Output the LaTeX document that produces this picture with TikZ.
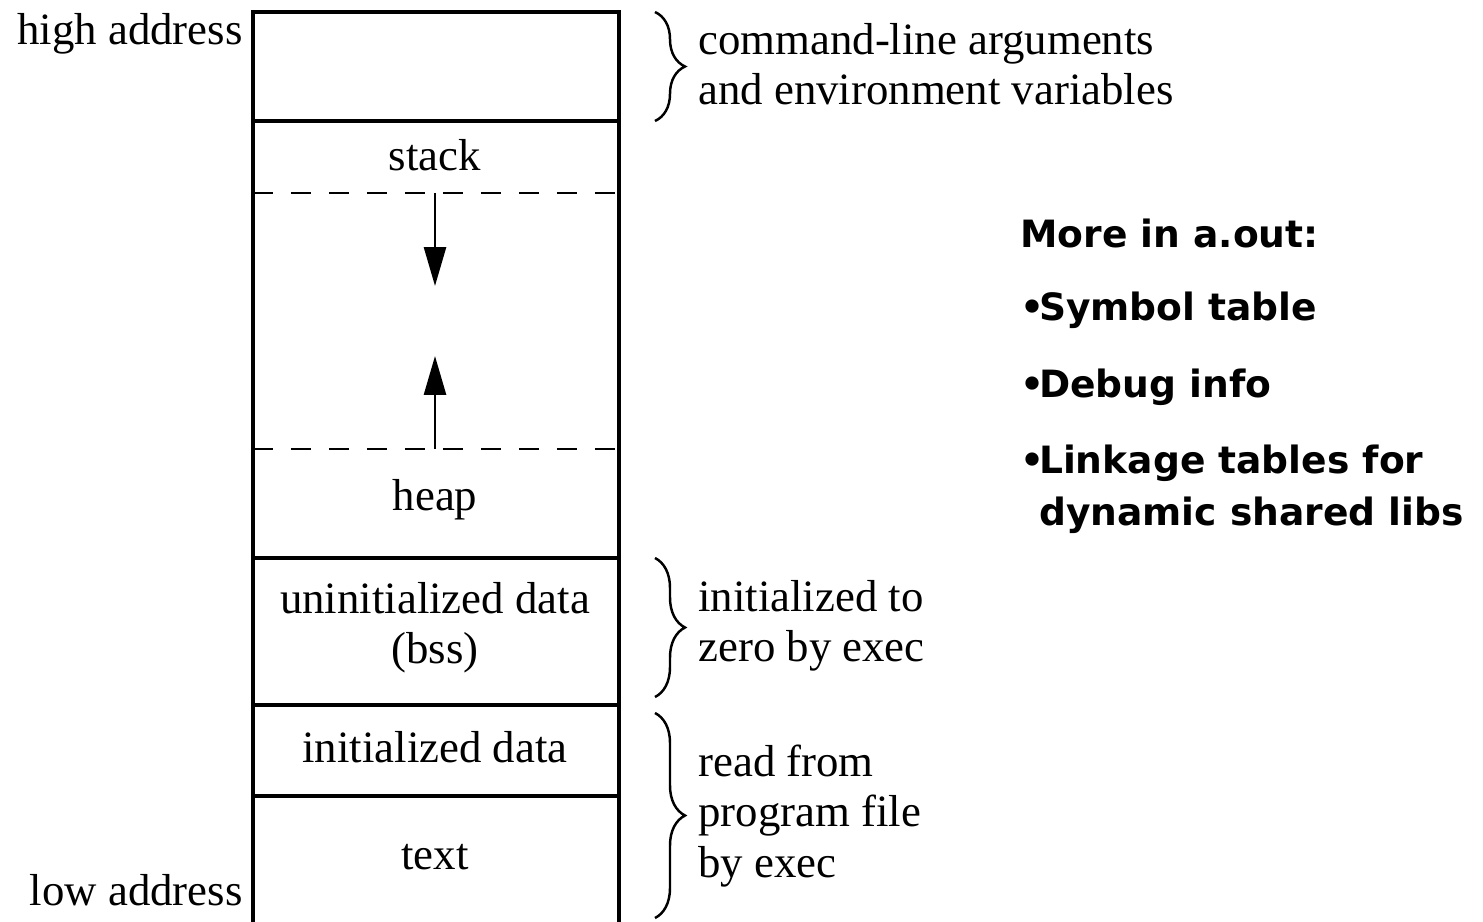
\documentclass[tikz,border=0pt]{standalone}
\usepackage{fontspec}
\setmainfont{Liberation Serif}
\newfontfamily\notefont{DejaVu Sans}
\usetikzlibrary{arrows.meta, decorations.pathreplacing}

\begin{document}
\begin{tikzpicture}[
    x=0.02cm, y=-0.02cm,
    wall/.style={line width=1.8pt},
    gap/.style={line width=1.6pt, dash pattern=on 0.4cm off 0.36cm},
    growarrow/.style={line width=1.6pt, -{Triangle[length=0.78cm, width=0.44cm]}},
    seg/.style={font=\fontsize{25.5}{28.5}\selectfont, align=center, inner sep=0pt},
    note/.style={font=\fontsize{25.5}{28.5}\selectfont, align=left, anchor=west, inner sep=0pt},
    addr/.style={font=\fontsize{25.5}{28.5}\selectfont, anchor=east, inner sep=0pt},
    bracket/.style={line width=1.4pt, decorate, decoration={brace, amplitude=0.6cm}},
    more/.style={font=\notefont\bfseries\fontsize{21.4}{29.6}\selectfont, align=left, anchor=west, inner sep=0pt}
]

\useasboundingbox (0,0) rectangle (1483,922);

% memory layout
\draw[wall] (253,922) -- (253,12) -- (619,12) -- (619,922);
\foreach \y in {121,558,705,796}
    \draw[wall] (253,\y) -- (619,\y);
\foreach \y in {193,449}
    \draw[gap] (253,\y) -- (619,\y);

\node[seg] (stack) at (435,155) {stack};
\node[seg] (heap) at (435,500) {heap};
\node[seg] (bss) at (435,628) {uninitialized data\\(bss)};
\node[seg] (idata) at (435,747) {initialized data};
\node[seg] (text) at (435,857) {text};

\node[addr] (high) at (243,34) {high address};
\node[addr] (low) at (243,890) {low address};

% growth arrows
\coordinate (stackgap) at (435,193);
\coordinate (stackend) at (435,286);
\coordinate (heapgap) at (435,449);
\coordinate (heapend) at (435,356);
\draw[growarrow] (stackgap) -- (stackend);
\draw[growarrow] (heapgap) -- (heapend);

% braces
\coordinate (argtop) at (655,12);
\coordinate (argbot) at (655,121);
\coordinate (bsstop) at (655,558);
\coordinate (bssbot) at (655,697);
\coordinate (filetop) at (655,713);
\coordinate (filebot) at (655,918);
\draw[bracket] (argtop) -- (argbot);
\draw[bracket] (bsstop) -- (bssbot);
\draw[bracket] (filetop) -- (filebot);

\node[note] (argnote) at (698,64) {command-line arguments\\and environment variables};
\node[note] (bssnote) at (698,626) {initialized to\\zero by exec};
\node[note] (filenote) at (698,816) {read from\\program file\\by exec};

% a.out contents
\node[more] (more) at (1020,233) {More in a.out:};
\node[more] (symtab) at (1020,310) {•\kern-3pt Symbol table};
\node[more] (debug) at (1020,387) {•\kern-3pt Debug info};
\node[more] (linkage) at (1020,489) {•\kern-3pt Linkage tables for\\\phantom{•}\kern-3pt dynamic shared libs};

\end{tikzpicture}
\end{document}
